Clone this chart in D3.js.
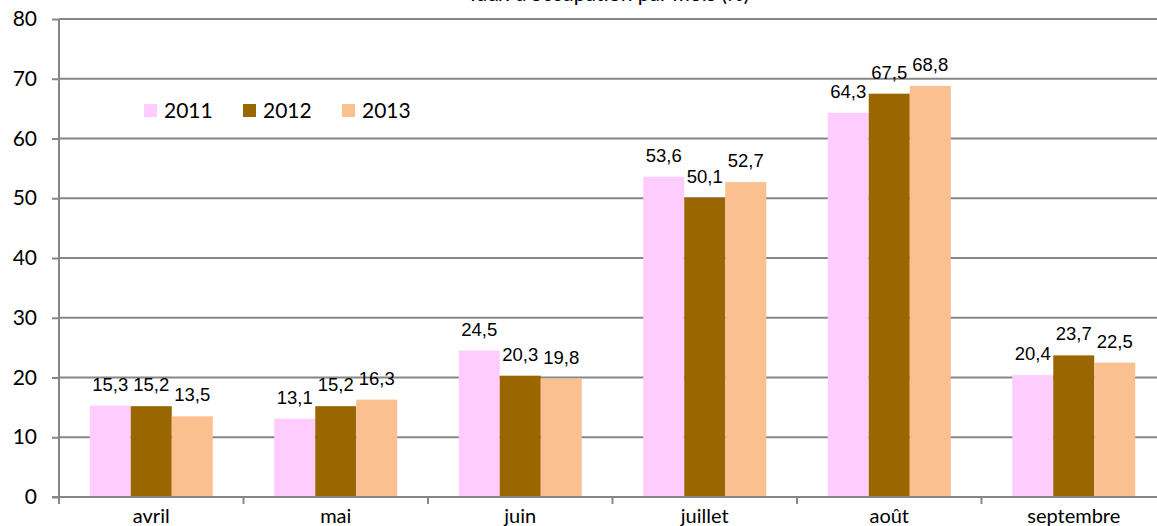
<!DOCTYPE html>
<html><head><meta charset="utf-8">
<script src="https://cdn.jsdelivr.net/npm/d3@7"></script>
<style>body{margin:0;background:#fff;overflow:hidden}svg{display:block}</style>
</head><body>
<svg id="c" width="1157" height="526"></svg>
<script>
const title = "Taux d'occupation par mois (%)";
const categories = ["avril","mai","juin","juillet","août","septembre"];
const series = ["2011","2012","2013"];
const values2011 = [15.3,13.1,24.5,53.6,64.3,20.4];
const values2012 = [15.2,15.2,20.3,50.1,67.5,23.7];
const values2013 = [13.5,16.3,19.8,52.7,68.8,22.5];
const yTicks = [0,10,20,30,40,50,60,70,80];
const colors = ["#FFCCFF","#996600","#FAC090"];
const allValues = [values2011, values2012, values2013];

const svg = d3.select("#c");
const axisFont = "Lato, 'Open Sans', sans-serif";
const labelFont = "'Liberation Sans', Arial, sans-serif";
const grey = "#868686";

const x = d3.scaleBand().domain(categories).range([59, 59 + 6*184.5]).padding(0);
const xs = d3.scaleBand().domain(series).range([0, x.bandwidth()]).paddingInner(0).paddingOuter(0.75);
const y = d3.scaleLinear().domain([0,80]).range([497,19]);

// gridlines
svg.append("g").selectAll("line").data(yTicks.filter(d=>d>0)).join("line")
  .attr("x1",59).attr("x2",1166).attr("y1",d=>y(d)).attr("y2",d=>y(d))
  .attr("stroke",grey).attr("stroke-width",2);

// title (clipped at top edge as in the reference)
svg.append("text").attr("x",608).attr("y",0.5).attr("text-anchor","middle")
  .attr("font-family",axisFont).attr("font-size",21).attr("fill","#000").text(title);

// bars
const groups = svg.append("g").selectAll("g").data(categories).join("g")
  .attr("transform",d=>`translate(${x(d)},0)`);
groups.selectAll("rect").data((c,i)=>series.map((s,j)=>({s, v: allValues[j][i], j}))).join("rect")
  .attr("x",d=>xs(d.s)).attr("width",xs.bandwidth())
  .attr("y",d=>y(d.v)).attr("height",d=>y(0)-y(d.v))
  .attr("fill",d=>colors[d.j]);
groups.selectAll("text").data((c,i)=>series.map((s,j)=>({s, v: allValues[j][i], j}))).join("text")
  .attr("x",d=>xs(d.s)+xs.bandwidth()/2).attr("y",d=>y(d.v)-15)
  .attr("text-anchor","middle").attr("font-family",labelFont).attr("font-size",18.5).attr("fill","#000")
  .text(d=>d3.format(".1f")(d.v).replace(".",","));

// y axis
const yAxis = d3.axisLeft(y).tickValues(yTicks).tickSize(7).tickPadding(15).tickFormat(d3.format("d"));
const ga = svg.append("g").attr("transform","translate(59,0)").call(yAxis);
ga.select(".domain").attr("stroke",grey).attr("stroke-width",2).attr("d","M0,19V497");
ga.selectAll(".tick line").attr("stroke",grey).attr("stroke-width",2);
ga.selectAll(".tick text").attr("font-family",axisFont).attr("font-size",21).attr("fill","#000");

// x axis
const gx = svg.append("g");
gx.append("line").attr("x1",52).attr("x2",1166).attr("y1",y(0)).attr("y2",y(0)).attr("stroke",grey).attr("stroke-width",2);
gx.selectAll("line.t").data(categories).join("line").attr("class","t")
  .attr("x1",d=>x(d)).attr("x2",d=>x(d)).attr("y1",y(0)).attr("y2",y(0)+7)
  .attr("stroke",grey).attr("stroke-width",2);
gx.selectAll("text").data(categories).join("text")
  .attr("x",d=>x(d)+x.bandwidth()/2).attr("y",523).attr("text-anchor","middle")
  .attr("font-family",axisFont).attr("font-size",20).attr("fill","#000").text(d=>d);

// legend
const legX = [144,243,342];
const lg = svg.append("g").selectAll("g").data(series).join("g")
  .attr("transform",(d,i)=>`translate(${legX[i]},104)`);
lg.append("rect").attr("width",13).attr("height",13).attr("fill",(d,i)=>colors[i]);
lg.append("text").attr("x",20).attr("y",13.5).attr("font-family",axisFont).attr("font-size",21).attr("fill","#000").text(d=>d);
</script>
</body></html>
